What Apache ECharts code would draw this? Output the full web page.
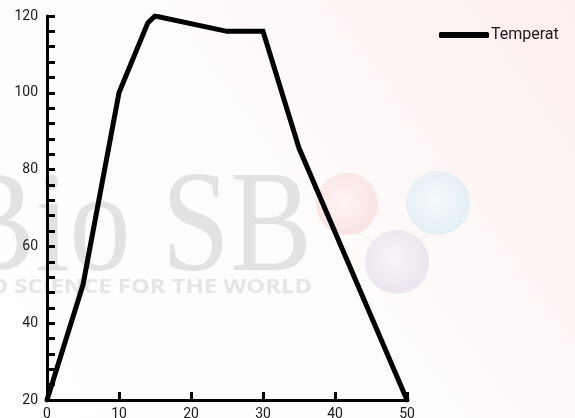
<!DOCTYPE html>
<html>
<head>
<meta charset="utf-8">
<script src="https://cdn.jsdelivr.net/npm/echarts@6/dist/echarts.min.js"></script>
<style>
html,body{margin:0;padding:0;background:#fff;}
#chart{width:575px;height:418px;}
</style>
</head>
<body>
<div id="chart"></div>
<script>
// Data
var seriesName = 'Temperat';
var timeValues = [0, 5, 10, 14, 15, 25, 30, 35, 50];
var tempValues = [20, 50, 100, 118.2, 120, 116, 116, 85.6, 20];
var xTicks = [0, 10, 20, 30, 40, 50];
var yTicks = [20, 40, 60, 80, 100, 120];

var points = timeValues.map(function (t, i) { return [t, tempValues[i]]; });

var chart = echarts.init(document.getElementById('chart'), null, {renderer: 'canvas'});
var font = 'Roboto, "Open Sans", sans-serif';

function radial(c0, c1) {
  return new echarts.graphic.RadialGradient(0.45, 0.45, 0.6, [
    {offset: 0, color: c0}, {offset: 1, color: c1}
  ]);
}

chart.setOption({
  animation: false,
  backgroundColor: new echarts.graphic.LinearGradient(0, 1, 1, 0, [
    {offset: 0, color: '#ffffff'},
    {offset: 0.5, color: '#fefcfc'},
    {offset: 1, color: '#fcefed'}
  ]),
  graphic: [
    {type: 'line', z: 0, shape: {x1: 352, y1: 230, x2: 392, y2: 252}, style: {stroke: '#efeaea', lineWidth: 1}},
    {type: 'line', z: 0, shape: {x1: 433, y1: 230, x2: 402, y2: 252}, style: {stroke: '#efeaea', lineWidth: 1}},
    {type: 'circle', z: 0, shape: {cx: 347, cy: 204, r: 31}, style: {fill: radial('#fdf4f3', '#f8e2df')}},
    {type: 'circle', z: 0, shape: {cx: 438, cy: 203, r: 32}, style: {fill: radial('#f4f9fb', '#e1eef4')}},
    {type: 'circle', z: 0, shape: {cx: 397, cy: 262, r: 32}, style: {fill: radial('#f7f4f8', '#ebe3ee')}},
    {type: 'text', z: 0, x: 312, y: 232, scaleX: 0.86,
      style: {text: 'Bio SB', x: 0, y: 0, textAlign: 'right', textVerticalAlign: 'middle',
      font: '143px "Liberation Serif", "DejaVu Serif", serif', fill: '#e2e2e2'}},
    {type: 'text', z: 0, x: 312, y: 287, scaleX: 1.19,
      style: {text: 'BIO SCIENCE FOR THE WORLD', x: 0, y: 0, textAlign: 'right', textVerticalAlign: 'middle',
      font: 'bold 20px "Open Sans", sans-serif', fill: '#e5e5e5'}}
  ],
  legend: {
    show: true,
    left: 434,
    top: 22,
    icon: 'roundRect',
    itemWidth: 50,
    itemHeight: 6,
    itemGap: 3,
    textStyle: {fontFamily: font, fontSize: 16, color: '#1a1a1a', padding: [0, 0, 0, -3]},
    data: [{name: seriesName, itemStyle: {color: '#000'}}]
  },
  grid: {left: 47, right: 168, top: 16, bottom: 18, containLabel: false, outerBoundsMode: 'none'},
  xAxis: {
    type: 'value',
    min: xTicks[0],
    max: xTicks[xTicks.length - 1],
    interval: 10,
    axisLine: {show: true, lineStyle: {color: '#000', width: 3}},
    axisTick: {show: true, inside: true, length: 8, lineStyle: {color: '#000', width: 3}},
    splitLine: {show: false},
    axisLabel: {margin: 7, fontFamily: font, fontSize: 14, color: '#1a1a1a'}
  },
  yAxis: {
    type: 'value',
    min: yTicks[0],
    max: yTicks[yTicks.length - 1],
    interval: 20,
    axisLine: {show: true, lineStyle: {color: '#000', width: 3}},
    axisTick: {show: true, inside: true, length: 8, lineStyle: {color: '#000', width: 3}},
    minorTick: {show: true, splitNumber: 5, length: 8, lineStyle: {color: '#000', width: 3}},
    splitLine: {show: false},
    axisLabel: {margin: 9, fontFamily: font, fontSize: 14, color: '#1a1a1a'}
  },
  series: [{
    name: seriesName,
    type: 'line',
    data: points,
    symbol: 'none',
    lineStyle: {color: '#000', width: 5, cap: 'round', join: 'miter'},
    itemStyle: {color: '#000'},
    z: 3
  }]
});
</script>
</body>
</html>
